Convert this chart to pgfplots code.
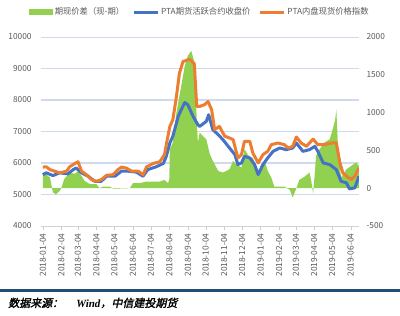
\documentclass[border=0pt]{standalone}
\usepackage{pgfplots}
\pgfplotsset{compat=1.18}
\usepackage{fontspec}
\setmainfont{Noto Sans CJK SC}
\newfontfamily\srcfont[FakeSlant=0.22,FakeBold=2]{Noto Sans CJK SC}
\newfontfamily\srclat{Liberation Serif}
\definecolor{cgreen}{HTML}{92D050}
\definecolor{cblue}{HTML}{4472C4}
\definecolor{corange}{HTML}{ED7D31}
\definecolor{cgrid}{HTML}{CFDAEE}
\definecolor{ctext}{HTML}{595959}
\definecolor{cbar}{HTML}{1F4E79}
\begin{document}
\begin{tikzpicture}
\useasboundingbox (0pt,0pt) rectangle (400pt,316pt);
% grid axis
\begin{axis}[
  at={(41pt,90pt)}, anchor=south west,
  scale only axis, width=318pt, height=189pt,
  xmin=-3, xmax=530, ymin=4000, ymax=10000,
  axis line style={draw=none},
  xtick=\empty, ytick={5000,6000,...,10000}, yticklabels={},
  scaled y ticks=false,
  major tick length=0pt,
]
\addplot[draw=cgrid, line width=1.1pt, forget plot] coordinates {(-3,5000)(530,5000)};
\addplot[draw=cgrid, line width=1.1pt, forget plot] coordinates {(-3,6000)(530,6000)};
\addplot[draw=cgrid, line width=1.1pt, forget plot] coordinates {(-3,7000)(530,7000)};
\addplot[draw=cgrid, line width=1.1pt, forget plot] coordinates {(-3,8000)(530,8000)};
\addplot[draw=cgrid, line width=1.1pt, forget plot] coordinates {(-3,9000)(530,9000)};
\addplot[draw=cgrid, line width=1.1pt, forget plot] coordinates {(-3,10000)(530,10000)};
\end{axis}
% right axis: basis (green area)
\begin{axis}[
  at={(41pt,90pt)}, anchor=south west,
  scale only axis, width=318pt, height=189pt,
  xmin=-3, xmax=530, ymin=-500, ymax=2000,
  axis x line=none, axis y line*=right,
  y axis line style={draw=none},
  ytick={-500,0,500,1000,1500,2000},
  ytick style={draw=none},
  yticklabel style={font=\fontsize{8.3}{10}\selectfont, color=ctext, xshift=4pt},
  scaled y ticks=false,
  /pgf/number format/assume math mode=true,
  /pgf/number format/set thousands separator={},
]
\addplot[fill=cgreen, draw=none] coordinates {
(0,0)(0,200)(6,180)(12,141)(15,20)(17,-57)(22,-80)(28,-40)(31,0)(36,120)(40,160)(45,207)(54,190)(59,229)(65,160)(70,97)(79,53)(90,53)(95,0)(101,22)(112,22)(118,-4)(129,-4)(146,0)(151,66)(162,66)(174,88)(185,88)(196,88)(204,110)(210,66)(212,120)(213,516)(218,604)(224,1001)(232,1353)(238,1618)(243,1750)(249,1816)(255,1640)(258,900)(260,604)(263,737)(268,692)(274,648)(280,450)(285,361)(294,229)(302,207)(313,251)(319,361)(324,317)(333,273)(338,516)(347,406)(352,406)(358,251)(363,207)(372,361)(377,229)(383,141)(388,22)(394,22)(405,22)(414,-22)(419,-123)(425,0)(430,110)(439,154)(447,207)(450,100)(453,-66)(456,200)(458,428)(464,516)(472,604)(481,648)(486,781)(490,900)(492,1045)(495,516)(500,141)(509,251)(517,295)(525,339)(530,295)(530,0)
} \closedcycle;
\end{axis}
% left axis: prices
\begin{axis}[
  at={(41pt,90pt)}, anchor=south west,
  scale only axis, width=318pt, height=189pt,
  xmin=-3, xmax=530, ymin=4000, ymax=10000,
  axis x line*=bottom, axis y line*=left,
  y axis line style={draw=none},
  x axis line style={draw=gray!35, -},
  ytick={4000,5000,...,10000},
  ytick style={draw=none},
  scaled y ticks=false,
  xtick={0,31,59,90,120,151,181,212,243,273,304,334,365,396,424,455,485,516},
  xticklabels={2018-01-04,2018-02-04,2018-03-04,2018-04-04,2018-05-04,2018-06-04,2018-07-04,2018-08-04,2018-09-04,2018-10-04,2018-11-04,2018-12-04,2019-01-04,2019-02-04,2019-03-04,2019-04-04,2019-05-04,2019-06-04},
  xtick style={draw=gray!40},
  tick align=outside, major tick length=4pt,
  xticklabel style={font=\fontsize{8.4}{9}\selectfont, color=ctext, rotate=90, anchor=east},
  yticklabel style={font=\fontsize{8.3}{10}\selectfont, color=ctext, xshift=-2pt},
  /pgf/number format/assume math mode=true,
  /pgf/number format/set thousands separator={},
  legend columns=3,
  legend style={draw=none, fill=none, at={(0.5,1)}, anchor=center, yshift=25pt,
    font=\fontsize{8.3}{10}\selectfont, text=ctext,
    /tikz/every even column/.append style={column sep=6pt}},
]
\addlegendimage{legend image code/.code={\fill[cgreen] (0pt,-2.5pt) rectangle (23pt,2.5pt);}}
\addlegendentry{期现价差（现-期）}
\addplot[cblue, line width=3pt, line join=round,
  legend image code/.code={\draw[cblue, line width=3pt] (0pt,0pt) -- (24pt,0pt);}] coordinates {
(0,5633)(6,5687)(12,5640)(17,5600)(28,5687)(42,5655)(51,5790)(56,5840)(65,5687)(76,5580)(87,5420)(98,5420)(107,5580)(121,5580)(132,5740)(143,5740)(157,5710)(168,5580)(176,5790)(190,5880)(202,5985)(207,6212)(213,6635)(218,6850)(227,7478)(232,7690)(238,7921)(243,7850)(252,7478)(260,7215)(263,7162)(274,7320)(278,7532)(285,7057)(294,6900)(302,6740)(313,6477)(322,6266)(327,5950)(333,6003)(338,6212)(347,6160)(355,5950)(361,5633)(369,5950)(377,6160)(386,6370)(397,6477)(408,6424)(419,6477)(425,6635)(436,6370)(447,6424)(456,6530)(461,6370)(470,6003)(481,5950)(492,5790)(500,5420)(509,5370)(514,5180)(523,5210)(530,5580)
};
\addlegendentry{PTA期货活跃合约收盘价}
\addplot[corange, line width=3pt, line join=round,
  legend image code/.code={\draw[corange, line width=3pt] (0pt,0pt) -- (24pt,0pt);}] coordinates {
(0,5870)(6,5880)(12,5790)(20,5740)(28,5687)(40,5740)(45,5880)(54,5985)(59,6040)(65,5740)(73,5630)(82,5470)(90,5420)(98,5470)(107,5610)(118,5630)(126,5790)(132,5870)(140,5840)(149,5740)(160,5740)(168,5630)(174,5880)(185,5985)(196,6040)(204,6266)(207,6582)(213,7162)(218,7373)(224,8110)(229,8850)(235,9220)(246,9294)(252,9190)(254,9150)(258,7800)(263,7795)(271,7850)(277,7953)(283,7690)(288,7057)(296,7162)(305,6850)(313,6795)(319,6740)(327,6160)(333,6266)(338,6687)(347,6687)(352,6320)(361,6003)(369,6266)(377,6370)(383,6582)(394,6635)(405,6582)(411,6477)(419,6530)(425,6826)(433,6635)(442,6530)(453,6760)(461,6582)(472,6582)(484,6635)(492,6635)(498,6003)(503,5687)(509,5580)(517,5475)(523,5580)(530,5845)
};
\addlegendentry{PTA内盘现货价格指数}
\end{axis}
\fill[cbar] (0pt,24pt) rectangle (400pt,26.5pt);
\node[anchor=west, inner sep=0pt] at (8pt,13pt) {\fontsize{11}{13}\selectfont\srcfont 数据来源：\hspace{1.2em}{\srclat\bfseries\itshape Wind}，中信建投期货};
\end{tikzpicture}
\end{document}
